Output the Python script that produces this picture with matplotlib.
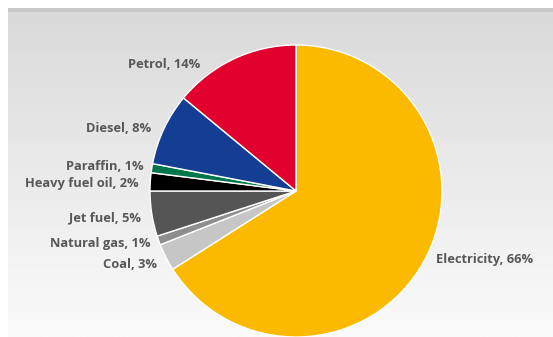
import numpy as np
import matplotlib.pyplot as plt

# Energy use by source, clockwise from 12 o'clock
sources = ["Electricity", "Coal", "Natural gas", "Jet fuel",
           "Heavy fuel oil", "Paraffin", "Diesel", "Petrol"]
shares = [66, 3, 1, 5, 2, 1, 8, 14]
colors = ["#FBBA00", "#C6C6C6", "#8E8E8E", "#555555",
          "#000000", "#00774A", "#133E93", "#E2002E"]

# label anchor in pixel coordinates (x, y from top) and alignment
label_pos = {
    "Electricity": (436, 259, "left"),
    "Coal": (157, 265, "right"),
    "Natural gas": (151, 244, "right"),
    "Jet fuel": (141, 218, "right"),
    "Heavy fuel oil": (139, 184, "right"),
    "Paraffin": (144, 167, "right"),
    "Diesel": (151, 128, "right"),
    "Petrol": (200, 64, "right"),
}

W, H = 553, 337
fig = plt.figure(figsize=(W / 100, H / 100), dpi=100)
ax = fig.add_axes([0, 0, 1, 1])

# panel background: vertical grey-to-white gradient with a darker top rule
grad = np.linspace(0, 1, 256).reshape(-1, 1)
top = np.array([0xDA, 0xDA, 0xDA]) / 255
bottom = np.array([0xFB, 0xFB, 0xFB]) / 255
img = top + (bottom - top) * grad[..., None]
ax.imshow(img, extent=[8, W, 0, H - 12], aspect="auto", zorder=0)
ax.fill_between([8, W], H - 12, H - 8, color="#C9C9C9", zorder=0, lw=0)

ax.pie(shares, colors=colors, startangle=90, counterclock=False,
       center=(296, H - 191), radius=146, frame=True,
       wedgeprops=dict(edgecolor="white", linewidth=1.0))
ax.set_xlim(0, W)
ax.set_ylim(0, H)
ax.set_aspect("equal")
ax.axis("off")

for name, val in zip(sources, shares):
    x, y, ha = label_pos[name]
    ax.text(x, H - y, f"{name}, {val}%", ha=ha, va="center",
            fontsize=9.3, fontweight="bold", color="#575757",
            family="Open Sans")

fig.savefig("out.png", dpi=100)
